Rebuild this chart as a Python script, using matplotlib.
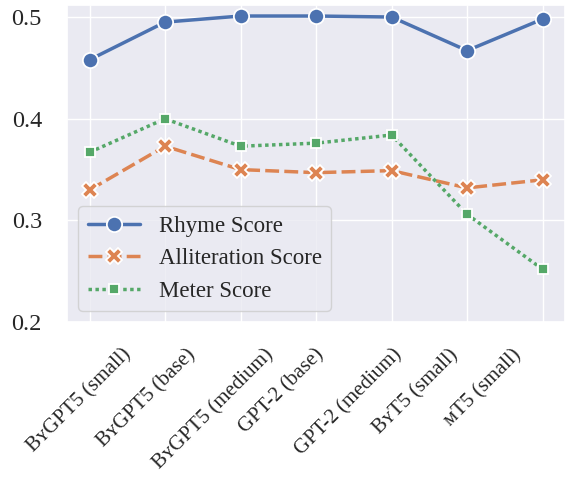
import matplotlib
matplotlib.use("Agg")
from matplotlib import pyplot as plt
from matplotlib.transforms import Affine2D
import seaborn as sns

models = ["B\u028fGPT5 (small)", "B\u028fGPT5 (base)", "B\u028fGPT5 (medium)",
          "GPT-2 (base)", "GPT-2 (medium)", "B\u028fT5 (small)", "\u1d0dT5 (small)"]
rhyme = [0.458, 0.495, 0.501, 0.501, 0.500, 0.467, 0.498]
alliteration = [0.330, 0.373, 0.350, 0.347, 0.349, 0.332, 0.340]
meter = [0.367, 0.400, 0.373, 0.376, 0.384, 0.306, 0.252]

sns.set_theme(style="darkgrid")
plt.rcParams["font.family"] = ["Liberation Serif", "DejaVu Serif"]

fig = plt.figure(figsize=(5.87, 4.83), dpi=100)
ax = fig.add_axes([0.114, 0.333, 0.849, 0.657])

pal = sns.color_palette("deep")
x = list(range(len(models)))
ax.plot(x, rhyme, color=pal[0], lw=2.5, marker="o", ms=11,
        mec="white", mew=1.3, label="Rhyme Score")
ax.plot(x, alliteration, color=pal[1], lw=2.5, marker="X", ms=11,
        mec="white", mew=1.3, dashes=(4, 1.5), label="Alliteration Score")
ax.plot(x, meter, color=pal[2], lw=2.5, marker="s", ms=7.5,
        mec="white", mew=1.3, dashes=(1, 1), label="Meter Score")

ax.set_ylim(0.2, 0.512)
ax.set_yticks([0.2, 0.3, 0.4, 0.5])
ax.tick_params(axis="y", labelsize=17.5, pad=12)
ax.set_xticks(x)
ax.set_xticklabels(models, rotation=45, ha="center", va="top", fontsize=15)

# the labels sit a bit left and lower than the grid lines in the original
for lab in ax.get_xticklabels():
    lab.set_transform(lab.get_transform() + Affine2D().scale(0.89, 1).translate(0, -10))

leg = ax.legend(loc="lower left", fontsize=16.5, handlelength=2.3, framealpha=0.8)
leg.get_frame().set_edgecolor("#cccccc")

fig.savefig("out.png", dpi=100)
